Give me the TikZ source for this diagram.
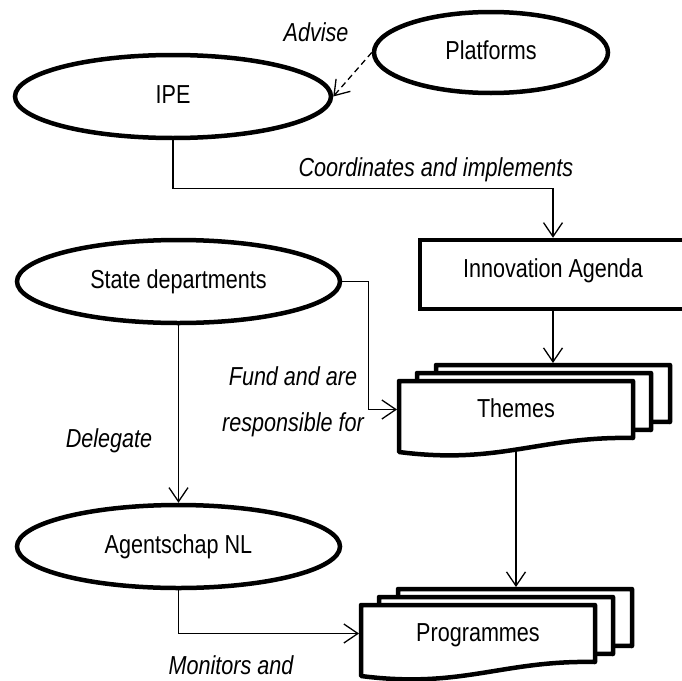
\documentclass[tikz,border=0pt]{standalone}
\usepackage{fontspec}
\setmainfont{Liberation Sans}[FakeStretch=0.83]
\usetikzlibrary{shapes.geometric,arrows.meta,calc}
\pgfdeclarelayer{background}
\pgfdeclarelayer{docs}
\pgfsetlayers{background,docs,main}
\newcommand\docshape[1]{%
  \draw[docline] (#1.south east) -- (#1.north east) -- (#1.north west) -- ($(#1.south west)+(0,14)$)
    .. controls ($(#1.south west)+(101,27)$) and ($(#1.south east)+(-93,-2)$) .. (#1.south east) -- cycle;}
\begin{document}
\begin{tikzpicture}[x=1pt,y=-1pt,
  every node/.style={font=\fontsize{26}{31}\selectfont},
  ell/.style={ellipse, draw, line width=4.5pt, fill=white, inner sep=0pt, text height=18pt, text depth=5pt},
  box/.style={rectangle, draw, line width=4.5pt, fill=white, inner sep=0pt, text height=18pt, text depth=13pt},
  docnode/.style={rectangle, inner sep=0pt, outer sep=0pt, minimum width=234pt, minimum height=57pt, text height=18pt, text depth=3pt},
  docline/.style={line width=4.5pt, fill=white, line join=round},
  lbl/.style={font=\fontsize{26}{31}\selectfont\itshape, anchor=base, inner sep=0pt},
  conn/.style={line width=1.3pt, -{Straight Barb[length=14pt,width=19pt]}},
]
\useasboundingbox (0,0) rectangle (682,680);

% ellipses and box
\node[ell, minimum width=316pt, minimum height=83pt] (ipe) at (173,96.5) {IPE};
\node[ell, minimum width=234pt, minimum height=81pt] (plat) at (491,52.5) {Platforms};
\node[ell, minimum width=323pt, minimum height=83pt] (sd) at (178.5,281.5) {State departments};
\node[ell, minimum width=323pt, minimum height=83pt] (ag) at (178.5,546.5) {Agentschap NL};
\node[box, minimum width=266pt, minimum height=69pt] (ia) at (553,274.5) {Innovation Agenda};

% stacked documents
\node[docnode] (themesB) at (553,393.5) {};
\node[docnode] (themesM) at (534,401.5) {};
\node[docnode] (themesF) at (516,409.5) {Themes};
\node[docnode] (progB) at (515,617.5) {};
\node[docnode] (progM) at (496,625.5) {};
\node[docnode] (progF) at (478,633.5) {Programmes};
\begin{pgfonlayer}{docs}
  \docshape{themesB}
  \docshape{themesM}
  \docshape{themesF}
  \docshape{progB}
  \docshape{progM}
  \docshape{progF}
\end{pgfonlayer}

% connectors
\begin{pgfonlayer}{background}
  \draw[conn, dash pattern=on 6pt off 4pt] (plat.west) -- (ipe.east);
  \draw[conn] (ipe.south) -- ++(0,48) -| (ia.north);
  \draw[conn, shorten >=2pt] (ia.south) -- (themesB.north);
  \draw[conn, shorten >=2pt] (sd.east) -- ++(26,0) |- (themesF.west);
  \draw[conn] (sd.south) -- (ag.north);
  \draw[conn, shorten >=2pt] (ag.south) |- (progF.west);
  \draw[conn, shorten >=2pt] (themesF.south) -- (themesF.south |- progB.north);
\end{pgfonlayer}

% labels
\node[lbl] (advise) at (316,41) {Advise};
\node[lbl] (coord) at (436,176) {Coordinates and implements};
\node[lbl] (fund1) at (293,385) {Fund and are};
\node[lbl] (fund2) at (293,431) {responsible for};
\node[lbl] (deleg) at (109,447) {Delegate};
\node[lbl] (monit) at (231,674) {Monitors and};
\end{tikzpicture}
\end{document}
